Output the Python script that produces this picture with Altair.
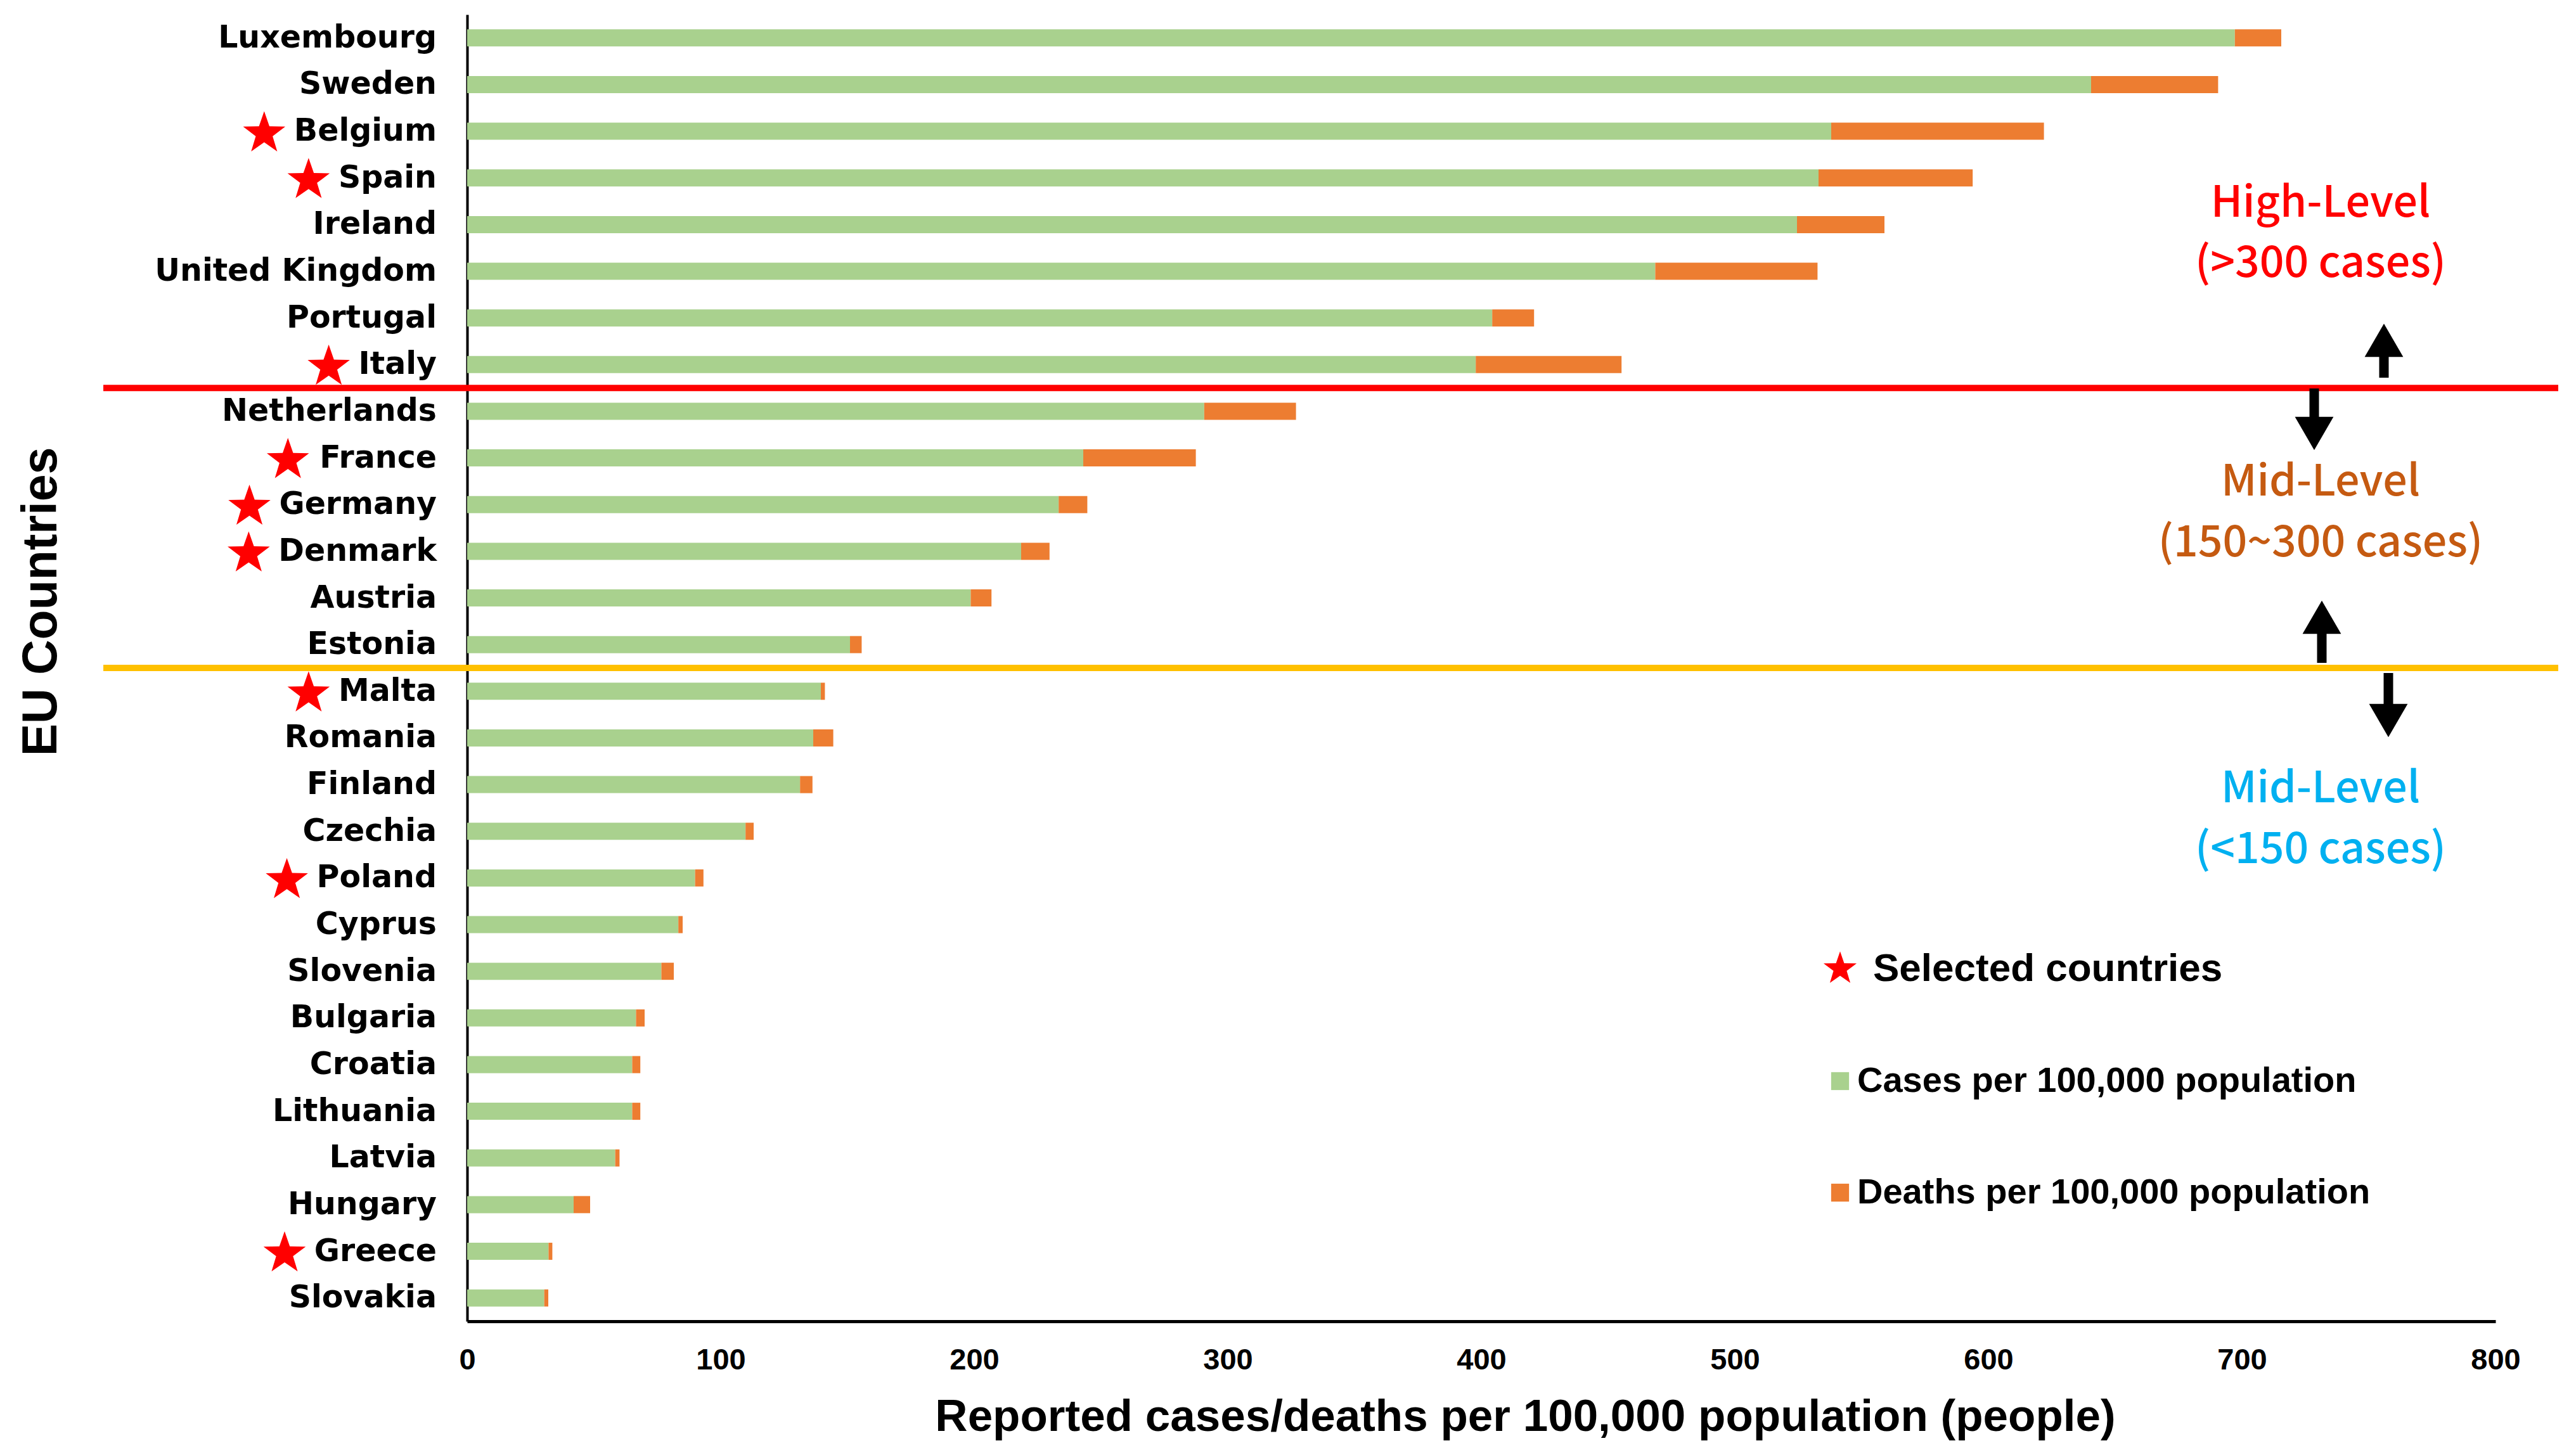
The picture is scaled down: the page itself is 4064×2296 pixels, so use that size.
import math
import altair as alt
import pandas as pd

# ---------------- data ----------------
countries = ["Luxembourg", "Sweden", "Belgium", "Spain", "Ireland", "United Kingdom",
             "Portugal", "Italy", "Netherlands", "France", "Germany", "Denmark",
             "Austria", "Estonia", "Malta", "Romania", "Finland", "Czechia", "Poland",
             "Cyprus", "Slovenia", "Bulgaria", "Croatia", "Lithuania", "Latvia",
             "Hungary", "Greece", "Slovakia"]
cases = [697.2, 640.5, 538.0, 533.0, 524.5, 468.6, 404.3, 397.8, 290.7, 243.0,
         233.3, 218.5, 198.6, 151.0, 139.5, 136.5, 131.3, 109.8, 89.9, 83.3,
         76.6, 66.6, 65.1, 65.1, 58.4, 42.0, 32.1, 30.4]
deaths = [18.3, 50.1, 83.9, 60.8, 34.5, 64.0, 16.5, 57.5, 36.2, 44.4,
          11.3, 11.2, 8.2, 4.6, 1.6, 7.9, 4.9, 3.2, 3.3, 1.7,
          4.9, 3.4, 3.2, 3.2, 1.7, 6.5, 1.5, 1.6]
selected = ["Belgium", "Spain", "Italy", "France", "Germany", "Denmark",
            "Malta", "Poland", "Greece"]
series = ["Cases per 100,000 population", "Deaths per 100,000 population"]
series_colors = ["#A9D18E", "#ED7D31"]
x_ticks = [0, 100, 200, 300, 400, 500, 600, 700, 800]
boundary_rows = ["Netherlands", "Malta"]
boundary_colors = ["#FF0000", "#FFC000"]
x_title = "Reported cases/deaths per 100,000 population  (people)"
y_title = "EU Countries"

# ---------------- label geometry (style) ----------------
LABEL_FONT_SIZE = 49
LABEL_X = -48
# approximate DejaVu Sans Bold advance widths (em)
ADV = {"a": .675, "b": .716, "c": .591, "d": .716, "e": .678, "f": .435, "g": .716,
       "h": .712, "i": .343, "j": .343, "k": .665, "l": .343, "m": 1.042, "n": .712,
       "o": .687, "p": .716, "r": .493, "s": .595, "t": .478, "u": .712, "v": .650,
       "x": .663, "y": .650, "z": .576, "A": .774, "B": .762, "C": .734, "D": .830,
       "E": .683, "F": .683, "G": .821, "H": .837, "I": .372, "K": .775, "L": .637,
       "M": .995, "N": .837, "P": .733, "R": .770, "S": .720, "U": .812, " ": .348}


def text_w(s, size):
    return sum(ADV.get(ch, 0.68) for ch in s) * size


STAR_R = 35
STAR_GAP = 12

# ---------------- tables ----------------
rows = []
for c, v, d in zip(countries, cases, deaths):
    rows.append({"country": c, "series": series[0], "value": v, "ord": 0})
    rows.append({"country": c, "series": series[1], "value": d, "ord": 1})
long_df = pd.DataFrame(rows)
lab_df = pd.DataFrame({"country": countries})
star_df = pd.DataFrame({
    "country": selected,
    "sx": [LABEL_X - text_w(c, LABEL_FONT_SIZE) - STAR_GAP - STAR_R for c in selected],
})
lines_df = pd.DataFrame({"country": boundary_rows, "color": boundary_colors})
one = pd.DataFrame({"k": [0]})

# five-pointed star symbol path (unit size)
pts = []
for k in range(10):
    ang = math.radians(-90 + 36 * k)
    r = 1.0 if k % 2 == 0 else 0.40
    pts.append(f"{r * math.cos(ang):.4f},{r * math.sin(ang) + 0.1:.4f}")
STAR = "M" + "L".join(pts) + "Z"

W, H = 3200, 2062

xscale = alt.Scale(domain=[0, 800], nice=False, zero=True)
yscale = alt.Scale(domain=countries, paddingInner=0, paddingOuter=0)

xaxis = alt.Axis(values=x_ticks, grid=False, ticks=False, domainColor="black",
                 domainWidth=5, labelFont="Liberation Sans", labelFontWeight="bold",
                 labelFontSize=47, labelColor="black", labelPadding=38, labelFlush=False,
                 title=x_title, titleFont="Liberation Sans", titleFontSize=71,
                 titleFontWeight="bold", titleColor="black", titleX=1669, titleY=172,
                 titleBaseline="alphabetic", titleAlign="center")
yaxis = alt.Axis(labels=False, ticks=False, grid=False, domainColor="black",
                 domainWidth=4, title=y_title, titleFont="Liberation Sans",
                 titleFontSize=77, titleFontWeight="bold", titleColor="black",
                 titleAngle=270, titleX=-672, titleY=926, titleAlign="center",
                 titleBaseline="middle")


def ycat(**kw):
    return alt.Y("country:N", scale=yscale, axis=yaxis, **kw)


bars = alt.Chart(long_df).mark_bar(size=27).encode(
    x=alt.X("value:Q", stack="zero", scale=xscale, axis=xaxis),
    y=ycat(),
    color=alt.Color("series:N", scale=alt.Scale(domain=series, range=series_colors), legend=None),
    order=alt.Order("ord:Q"),
)

rules = alt.Chart(lines_df).mark_rule(strokeWidth=10).encode(
    y=ycat(bandPosition=0),
    x=alt.value(-574), x2=alt.value(3299),
    color=alt.Color("color:N", scale=None),
)

# arrows (annotation positions in pixels)
arrow_specs = [
    (3024, 573, 530, 514, "triangle-up"),
    (2914, 590, 645, 661, "triangle-down"),
    (2926, 1023, 965, 951, "triangle-up"),
    (3031, 1039, 1100, 1114, "triangle-down"),
]
arrow_layers = []
for ax, y1, y2, hy, shp in arrow_specs:
    arrow_layers.append(
        alt.Chart(one).mark_rule(color="black", strokeWidth=15).encode(
            x=alt.value(ax), y=alt.value(y1), y2=alt.value(y2)))
    arrow_layers.append(
        alt.Chart(one).mark_point(shape=shp, filled=True, color="black", opacity=1,
                                  size=3700).encode(x=alt.value(ax), y=alt.value(hy)))

level_specs = [
    ("High-Level", 299, "#FF0000"), ("(>300 cases)", 394, "#FF0000"),
    ("Mid-Level", 739, "#C55A11"), ("(150~300 cases)", 835, "#C55A11"),
    ("Mid-Level", 1223, "#00B0F0"), ("(<150 cases)", 1319, "#00B0F0"),
]
level_layers = [
    alt.Chart(one).mark_text(text=t, font="Noto Sans CJK SC", fontWeight=500, fontSize=68,
                             color=col, align="center", baseline="middle").encode(
        x=alt.value(2924), y=alt.value(yy))
    for t, yy, col in level_specs
]

# legend (manual)
legend_layers = [
    alt.Chart(one).mark_point(shape=STAR, filled=True, color="#FF0000", opacity=1,
                              size=3000).encode(x=alt.value(2166), y=alt.value(1503)),
    alt.Chart(one).mark_text(text="Selected countries", font="Liberation Sans",
                             fontWeight="bold", fontSize=62, color="black",
                             align="left", baseline="middle").encode(
        x=alt.value(2218), y=alt.value(1506)),
    alt.Chart(one).mark_square(size=800, color=series_colors[0], opacity=1).encode(
        x=alt.value(2166), y=alt.value(1683)),
    alt.Chart(one).mark_text(text=series[0], font="Liberation Sans", fontWeight="bold",
                             fontSize=56, color="black", align="left",
                             baseline="middle").encode(x=alt.value(2193), y=alt.value(1683)),
    alt.Chart(one).mark_square(size=800, color=series_colors[1], opacity=1).encode(
        x=alt.value(2166), y=alt.value(1859)),
    alt.Chart(one).mark_text(text=series[1], font="Liberation Sans", fontWeight="bold",
                             fontSize=56, color="black", align="left",
                             baseline="middle").encode(x=alt.value(2193), y=alt.value(1859)),
]

# country labels and stars for selected countries
labels = alt.Chart(lab_df).mark_text(
    color="black", align="right", baseline="middle", font="DejaVu Sans",
    fontWeight="bold", fontSize=LABEL_FONT_SIZE).encode(
    x=alt.value(LABEL_X), y=ycat(), text="country:N")
stars = alt.Chart(star_df).mark_point(
    shape=STAR, filled=True, color="#FF0000", opacity=1,
    size=(2 * STAR_R) ** 2).encode(
    x=alt.X("sx:Q", scale=None, axis=None), y=ycat())

chart = alt.layer(
    bars, rules, *arrow_layers, *level_layers, *legend_layers, labels, stars,
).resolve_scale(x="independent").properties(
    width=W, height=H,
    autosize=alt.AutoSizeParams(type="none"),
    padding={"left": 729, "top": 15, "right": 119, "bottom": 203},
    background="white",
).configure_view(stroke=None)

chart.save("out.html", embed_options={"renderer": "svg", "actions": False})
